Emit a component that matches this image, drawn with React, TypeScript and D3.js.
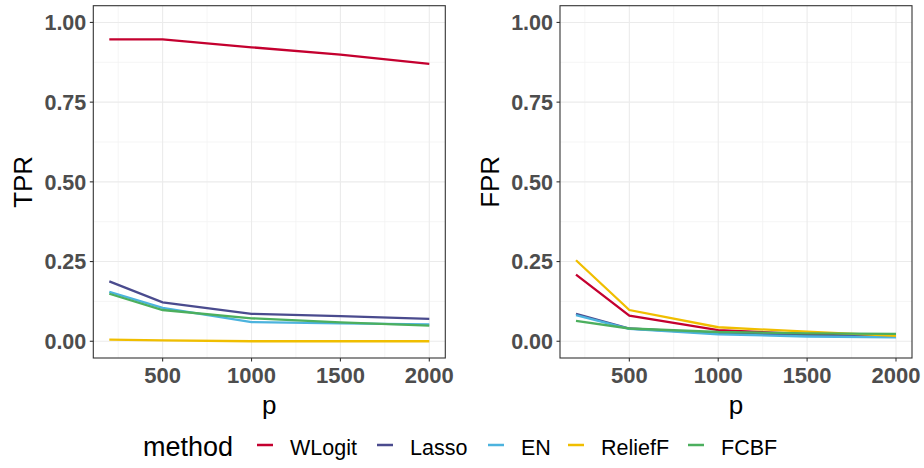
import React from "react";
import * as d3 from "d3";

const pValues = [200, 500, 1000, 1500, 2000];
const methods = ["WLogit", "Lasso", "EN", "ReliefF", "FCBF"];
const colors = ["#C4002F", "#4A4B8E", "#4CB3DE", "#F0BE00", "#4CAF5E"];

const tprWLogit = [0.947, 0.947, 0.922, 0.899, 0.870];
const tprLasso = [0.188, 0.122, 0.086, 0.079, 0.070];
const tprEN = [0.155, 0.105, 0.060, 0.056, 0.053];
const tprReliefF = [0.005, 0.003, 0.0, 0.0, 0.0];
const tprFCBF = [0.149, 0.098, 0.072, 0.059, 0.049];

const fprWLogit = [0.209, 0.080, 0.035, 0.022, 0.018];
const fprLasso = [0.086, 0.040, 0.025, 0.018, 0.015];
const fprEN = [0.082, 0.039, 0.022, 0.015, 0.012];
const fprReliefF = [0.254, 0.098, 0.044, 0.030, 0.017];
const fprFCBF = [0.064, 0.040, 0.029, 0.025, 0.023];

const yTicks = [0, 0.25, 0.5, 0.75, 1];
const yTickLabels = ["0.00", "0.25", "0.50", "0.75", "1.00"];
const yMinor = [0.125, 0.375, 0.625, 0.875];
const xTicks = [500, 1000, 1500, 2000];
const xMinor = [250, 750, 1250, 1750];

const tprSeries = [tprWLogit, tprLasso, tprEN, tprReliefF, tprFCBF];
const fprSeries = [fprWLogit, fprLasso, fprEN, fprReliefF, fprFCBF];

const TOP = 5.7;
const BOTTOM = 358;
const PW = 352;

function Panel({ left, title, series, titleX }: { left: number; title: string; series: number[][]; titleX: number }) {
  const x = d3.scaleLinear().domain([110, 2090]).range([left, left + PW]);
  const y = d3.scaleLinear().domain([-0.0525, 1.0525]).range([BOTTOM, TOP]);
  const line = d3
    .line<number>()
    .x((_, i) => x(pValues[i]))
    .y((d) => y(d));
  const tickFont = "'Liberation Sans', Arial, sans-serif";
  return (
    <g>
      <rect x={left} y={TOP} width={PW} height={BOTTOM - TOP} fill="#FFFFFF" />
      {yMinor.map((v) => (
        <line key={"ym" + v} x1={left} x2={left + PW} y1={y(v)} y2={y(v)} stroke="#F2F2F2" strokeWidth={0.8} />
      ))}
      {xMinor.map((v) => (
        <line key={"xm" + v} y1={TOP} y2={BOTTOM} x1={x(v)} x2={x(v)} stroke="#F2F2F2" strokeWidth={0.8} />
      ))}
      {yTicks.map((v) => (
        <line key={"yg" + v} x1={left} x2={left + PW} y1={y(v)} y2={y(v)} stroke="#EBEBEB" strokeWidth={1.1} />
      ))}
      {xTicks.map((v) => (
        <line key={"xg" + v} y1={TOP} y2={BOTTOM} x1={x(v)} x2={x(v)} stroke="#EBEBEB" strokeWidth={1.1} />
      ))}
      {series.map((s, i) => (
        <path key={methods[i]} d={line(s) || ""} fill="none" stroke={colors[i]} strokeWidth={2.3} />
      ))}
      <rect x={left} y={TOP} width={PW} height={BOTTOM - TOP} fill="none" stroke="#333333" strokeWidth={1.1} />
      {yTicks.map((v, i) => (
        <g key={"yt" + v}>
          <line x1={left - 3.5} x2={left} y1={y(v)} y2={y(v)} stroke="#333333" strokeWidth={1.1} />
          <text
            x={left - 7}
            y={y(v)}
            dy="0.36em"
            textAnchor="end"
            fontFamily={tickFont}
            fontWeight="bold"
            fontSize={21.5}
            fill="#4D4D4D"
          >
            {yTickLabels[i]}
          </text>
        </g>
      ))}
      {xTicks.map((v) => (
        <g key={"xt" + v}>
          <line x1={x(v)} x2={x(v)} y1={BOTTOM} y2={BOTTOM + 3.5} stroke="#333333" strokeWidth={1.1} />
          <text
            x={x(v)}
            y={383}
            textAnchor="middle"
            fontFamily={tickFont}
            fontWeight="bold"
            fontSize={22}
            fill="#4D4D4D"
          >
            {v}
          </text>
        </g>
      ))}
      <text x={left + PW / 2} y={414} textAnchor="middle" fontFamily={tickFont} fontSize={26} fill="#000000">
        p
      </text>
      <text
        transform={`translate(${titleX},${(TOP + BOTTOM) / 2}) rotate(-90)`}
        textAnchor="middle"
        fontFamily={tickFont}
        fontSize={26}
        fill="#000000"
      >
        {title}
      </text>
    </g>
  );
}

const legendKeyX = [257, 377, 488, 568, 688];

export default function App() {
  const font = "'Liberation Sans', Arial, sans-serif";
  return (
    <svg width={924} height={468} style={{ position: "absolute", left: 0, top: 0, background: "#FFFFFF" }}>
      <rect x={0} y={0} width={924} height={468} fill="#FFFFFF" />
      <Panel left={93.3} title="TPR" series={tprSeries} titleX={32} />
      <Panel left={560} title="FPR" series={fprSeries} titleX={499} />
      <text x={143} y={456} fontFamily={font} fontSize={27} fill="#000000">
        method
      </text>
      {methods.map((m, i) => (
        <g key={m}>
          <line x1={legendKeyX[i]} x2={legendKeyX[i] + 16} y1={445} y2={445} stroke={colors[i]} strokeWidth={2.5} />
          <text x={legendKeyX[i] + 33} y={455} fontFamily={font} fontSize={21.5} fill="#000000">
            {m}
          </text>
        </g>
      ))}
    </svg>
  );
}
